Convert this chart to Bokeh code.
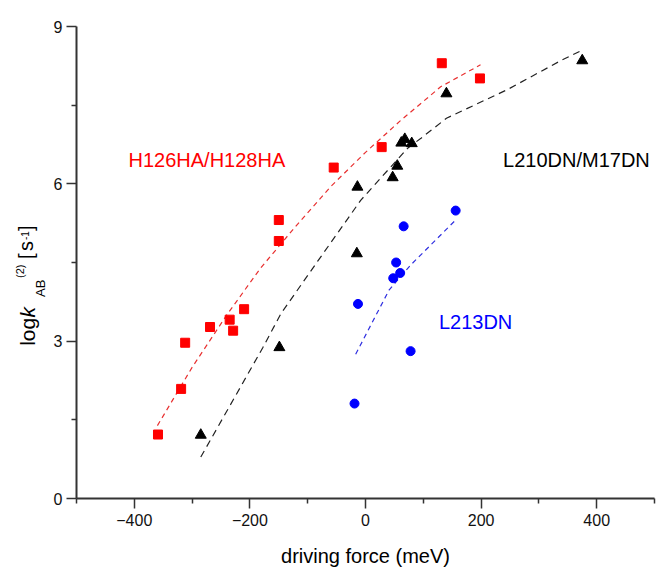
import math
from bokeh.plotting import figure
from bokeh.models import Range1d, FixedTicker, Label
from bokeh.layouts import row
from bokeh.core.properties import value
from bokeh.embed import file_html
from bokeh.resources import INLINE

# ---- data ----
red_x = [-359, -319, -312, -269, -235, -229, -210, -150, -150, -55, 28, 132, 198]
red_y = [1.22, 2.09, 2.97, 3.27, 3.41, 3.20, 3.61, 4.91, 5.31, 6.31, 6.70, 8.30, 8.01]

blk_x = [-285, -149, -15, -14, 47, 55, 62, 68, 80, 140, 375]
blk_y = [1.21, 2.88, 4.67, 5.94, 6.12, 6.34, 6.78, 6.85, 6.77, 7.72, 8.35]

blu_x = [-19, -13, 48, 53, 60, 66, 78, 156]
blu_y = [1.81, 3.71, 4.20, 4.50, 4.30, 5.19, 2.81, 5.49]

red_fit_x = [-360, -300, -240, -181, -120, -60, 0, 60, 130, 199]
red_fit_y = [1.39, 2.50, 3.50, 4.40, 5.20, 5.95, 6.60, 7.20, 7.85, 8.27]

blk_fit_x = [-285, -178, -146, -83, -8, 73, 96, 140, 246, 338, 375]
blk_fit_y = [0.79, 2.87, 3.53, 4.52, 5.69, 6.68, 6.87, 7.25, 7.80, 8.35, 8.55]

blu_fit_x = [-17, 41, 78, 156]
blu_fit_y = [2.75, 3.98, 4.45, 5.31]

x_major = [-400, -200, 0, 200, 400]
x_minor = [-500, -300, -100, 100, 300, 500]
y_major = [0, 3, 6, 9]
y_minor = [1.5, 4.5, 7.5]

FONT = "Liberation Sans"
RED = "#ff0000"
BLUE = "#0000ff"

W_LAB = 48
TOTAL_W = 656
TOTAL_H = 569
F_TOP = 26
F_BOT = 70

yr = Range1d(0, 9)
p = figure(width=TOTAL_W - W_LAB, height=TOTAL_H, output_backend="svg", toolbar_location=None,
           x_range=Range1d(-500, 500), y_range=yr,
           min_border_left=76 - W_LAB, min_border_right=2, min_border_top=F_TOP, min_border_bottom=F_BOT)
p.outline_line_color = None
p.xgrid.visible = False
p.ygrid.visible = False
p.background_fill_color = "white"
p.border_fill_color = "white"

p.xaxis.ticker = FixedTicker(ticks=x_major, minor_ticks=x_minor)
p.yaxis.ticker = FixedTicker(ticks=y_major, minor_ticks=y_minor)
for ax in (p.xaxis, p.yaxis):
    ax.axis_line_color = "#333333"
    ax.axis_line_width = 2
    ax.major_tick_line_color = "#333333"
    ax.minor_tick_line_color = "#333333"
    ax.major_tick_line_width = 1.5
    ax.minor_tick_line_width = 1.5
    ax.major_tick_out = 10
    ax.major_tick_in = 0
    ax.minor_tick_out = 5
    ax.minor_tick_in = 0
    ax.major_label_text_font = FONT
    ax.major_label_text_font_size = "16px"
    ax.major_label_text_color = "#111111"
p.xaxis.major_label_standoff = 5
p.yaxis.major_label_standoff = 4
p.xaxis.axis_label = "driving force (meV)"
p.xaxis.axis_label_text_font = FONT
p.xaxis.axis_label_text_font_size = "20px"
p.xaxis.axis_label_text_font_style = "normal"
p.xaxis.axis_label_text_color = "black"
p.xaxis.axis_label_standoff = 16

# fitted dashed curves
p.line(red_fit_x, red_fit_y, line_color="#e83030", line_width=1.2, line_dash="5 4")
p.line(blk_fit_x, blk_fit_y, line_color="#222222", line_width=1.2, line_dash="7 5")
p.line(blu_fit_x, blu_fit_y, line_color="#3030e0", line_width=1.2, line_dash="5 4")

# markers
p.scatter(red_x, red_y, marker="square", size=9, fill_color=RED, line_color=RED)
p.scatter(blk_x, blk_y, marker="triangle", size=11, fill_color="black", line_color="black")
p.scatter(blu_x, blu_y, marker="circle", size=9, fill_color=BLUE, line_color=BLUE)

# series labels
p.add_layout(Label(x=-410, y=6.46, text="H126HA/H128HA", text_font=FONT, text_font_size="20px",
                   text_color=RED, text_baseline="middle", text_align="left"))
p.add_layout(Label(x=238, y=6.46, text="L210DN/M17DN", text_font=FONT, text_font_size="20px",
                   text_color="black", text_baseline="middle", text_align="left"))
p.add_layout(Label(x=127, y=3.37, text="L213DN", text_font=FONT, text_font_size="20px",
                   text_color=BLUE, text_baseline="middle", text_align="left"))

# y-axis title in a narrow panel on the left, sharing the main y range
lab = figure(width=W_LAB, height=TOTAL_H, output_backend="svg", toolbar_location=None,
             x_range=Range1d(0, W_LAB), y_range=yr,
             x_axis_type=None, y_axis_type=None,
             min_border_left=0, min_border_right=0, min_border_top=F_TOP, min_border_bottom=F_BOT)
lab.outline_line_color = None
lab.xgrid.visible = False
lab.ygrid.visible = False
lab.border_fill_color = "white"
lab.background_fill_color = "white"

def py2y(py):
    # page pixel row -> data value on the shared y axis
    return (TOTAL_H - F_BOT - py) / ((TOTAL_H - F_BOT - F_TOP) / 9.0)

# (text, anchor column, start row, size, style); rotated text is anchored near mid-glyph
pieces = [
    ("log", 27, 346, "21px", "normal"),
    ("k", 27, 317.5, "21px", "italic"),
    ("AB", 40, 297, "13px", "normal"),
    ("(2)", 19, 278, "11px", "normal"),
    ("[", 25, 259, "20px", "normal"),
    ("s", 25, 251, "20px", "normal"),
    ("-1", 24, 240, "10px", "normal"),
    ("]", 25, 231, "20px", "normal"),
]
for txt, bx, sy, fs, style in pieces:
    lab.text(x=[bx], y=[py2y(sy)], text=[txt], angle=math.pi / 2,
             text_font=value(FONT), text_font_size=value(fs), text_font_style=value(style),
             text_color="black", text_baseline="alphabetic", text_align="left")

layout = row(lab, p, spacing=0)
open("out.html", "w").write(file_html(layout, INLINE))
